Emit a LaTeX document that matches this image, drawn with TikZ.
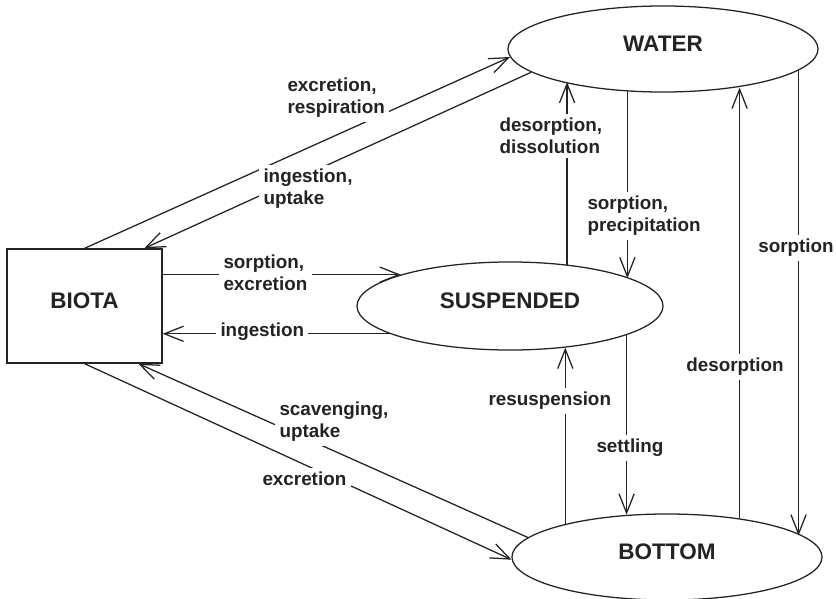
\documentclass[tikz,border=0pt]{standalone}
\usepackage{fontspec}
\setmainfont{Liberation Sans}
\usetikzlibrary{shapes.geometric, arrows.meta}
\usepackage{xcolor}
\definecolor{inkcolor}{RGB}{35,35,35}

\begin{document}
\begin{tikzpicture}[x=0.025cm, y=-0.025cm]
  \tikzset{
    pool/.style={
      draw=inkcolor,
      ellipse,
      line width=0.9pt,
      minimum width=7.75cm,
      minimum height=2.15cm,
      inner sep=0pt,
      text depth=0.25cm,
      text=inkcolor,
      font=\fontsize{16}{19}\selectfont\bfseries
    },
    box/.style={
      draw=inkcolor,
      rectangle,
      line width=0.9pt,
      minimum width=3.875cm,
      minimum height=2.85cm,
      text depth=0.25cm,
      text=inkcolor,
      font=\fontsize{16}{19}\selectfont\bfseries
    },
    flow/.style={
      draw=inkcolor,
      line width=0.9pt,
      -{Straight Barb[length=4.8mm, width=3.8mm]}
    },
    rate/.style={
      fill=white,
      inner sep=3pt,
      align=left,
      anchor=west,
      text=inkcolor,
      font=\fontsize{13.4}{15.6}\selectfont\bfseries
    }
  }

  \useasboundingbox (0,0) rectangle (836,599);
  \fill[white] (0,0) rectangle (836,599);

  % Draw the compartments
    \node[pool] (water) at (663,49) {WATER};
    \node[pool, minimum width=7.65cm, minimum height=2.2cm] (susp) at (510,306) {SUSPENDED};
    \node[pool] (bottom) at (667,557) {BOTTOM};
    \node[box] (biota) at (84.5,306) {BIOTA};

  % Biota exchanges
    \draw[flow] (biota.north) -- (water.183);
    \draw[flow] (water.190) -- (biota.44);
    \draw[flow] (susp.164 -| biota.east) -- (susp.164);
    \draw[flow] (susp.193.35) -- (susp.193.35 -| biota.east);
    \draw[flow] (bottom.172) -- (biota.313);
    \draw[flow] (biota.south) -- (bottom.181);

  % Exchanges between water, suspended matter and bottom (kept vertical)
    \draw[flow] (susp.36.74) -- (susp.36.74 |- water.198.77);
    \draw[flow] (water.230.98) -- (water.230.98 |- susp.13.09);
    \draw[flow] (bottom.162.39) -- (bottom.162.39 |- susp.323.26);
    \draw[flow] (susp.346.91) -- (susp.346.91 |- bottom.132.35);
    \draw[flow] (bottom.28.72) -- (bottom.28.72 |- water.332.96);
    \draw[flow] (water.351.65) -- (water.351.65 |- bottom.9.43);

  % Process labels
    \node[rate] (exresp) at (283,98) {excretion,\\respiration};
    \node[rate] (inupt) at (259,189) {ingestion,\\uptake};
    \node[rate] (sorpexc) at (219,273) {sorption,\\excretion};
    \node[rate] (ingest) at (216,332) {ingestion};
    \node[rate] (desdis) at (495,136) {desorption,\\dissolution};
    \node[rate] (sorppre) at (583,216) {sorption,\\precipitation};
    \node[rate, anchor=center] (sorp) at (796,248) {sorption};
    \node[rate, anchor=center] (desorp) at (735,367) {desorption};
    \node[rate] (resusp) at (484,401) {resuspension};
    \node[rate, anchor=center] (settle) at (630,448) {settling};
    \node[rate] (scavupt) at (275,422) {scavenging,\\uptake};
    \node[rate] (excr) at (258,479) {excretion};

\end{tikzpicture}
\end{document}
